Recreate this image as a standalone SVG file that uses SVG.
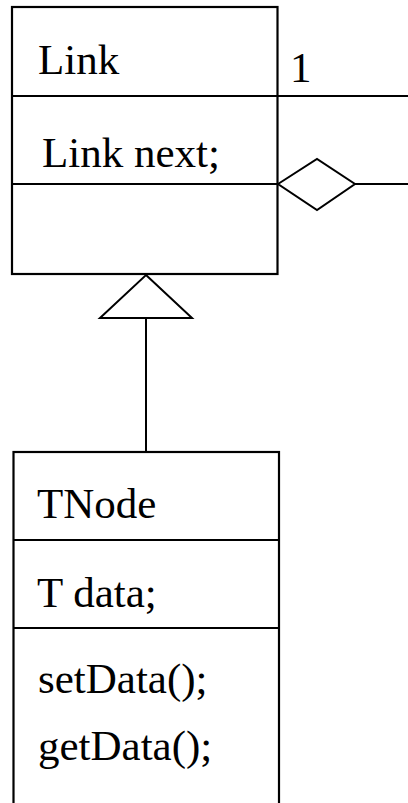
<svg xmlns="http://www.w3.org/2000/svg" width="408" height="803" viewBox="0 0 408 803">
<style>
.box{fill:#fff;stroke:#000;stroke-width:2.2}
.ln{fill:none;stroke:#000;stroke-width:2}
.t{font-family:"Liberation Serif","Times New Roman",serif;font-size:43px;fill:#000}
</style>
<rect width="408" height="803" fill="#fff"/>
<g id="Link">
<rect class="box" x="12" y="7" width="265.5" height="267"/>
<line class="ln" x1="12" y1="96" x2="277.5" y2="96"/>
<line class="ln" x1="12" y1="184" x2="277.5" y2="184"/>
<text class="t" x="38" y="74">Link</text>
<text class="t" x="42" y="167">Link next;</text>
</g>
<g id="TNode">
<rect class="box" x="13.5" y="452" width="265.5" height="360"/>
<line class="ln" x1="13.5" y1="540" x2="279" y2="540"/>
<line class="ln" x1="13.5" y1="628" x2="279" y2="628"/>
<text class="t" x="37" y="518">TNode</text>
<text class="t" x="37" y="607">T data;</text>
<text class="t" x="38" y="693">setData();</text>
<text class="t" x="38" y="760">getData();</text>
</g>
<g id="connectors">
<line class="ln" x1="277.5" y1="96" x2="408" y2="96"/>
<text class="t" x="290" y="82">1</text>
<polygon class="ln" points="278,184 317,159 355,184 317,210"/>
<line class="ln" x1="355" y1="184" x2="408" y2="184"/>
<polygon class="ln" points="146,275 192,318 100,318"/>
<line class="ln" x1="146" y1="318" x2="146" y2="452"/>
</g>
</svg>
